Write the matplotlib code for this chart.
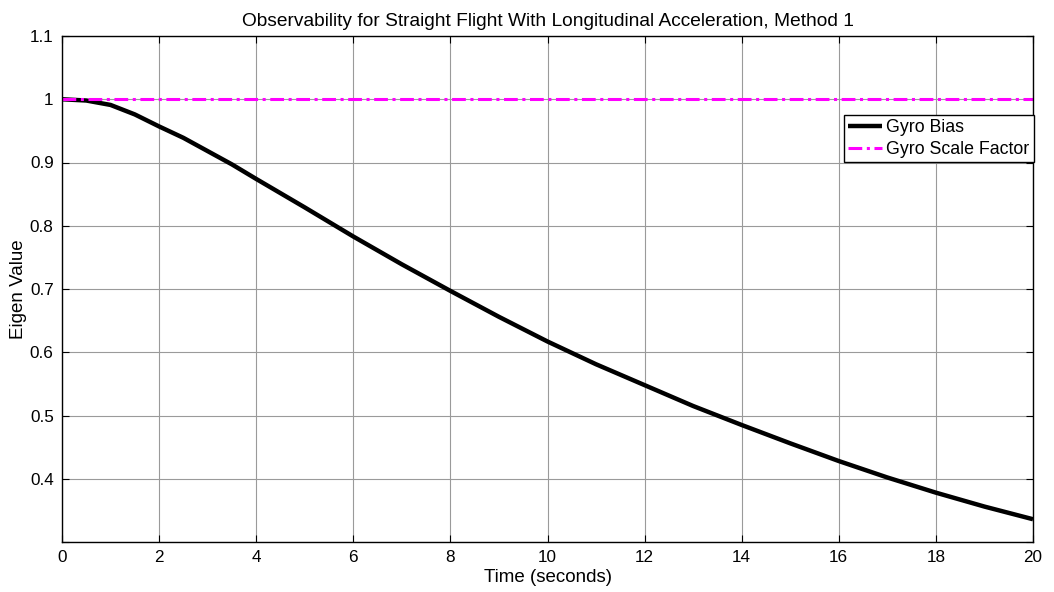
import matplotlib
matplotlib.use("Agg")
import matplotlib.pyplot as plt
import numpy as np

plt.rcParams['font.family'] = ['Liberation Sans', 'DejaVu Sans']

time_s = [0, 0.5, 1, 1.5, 2, 2.5, 3, 3.5, 4, 5, 6, 7, 8, 9, 10, 11, 12, 13, 14, 15, 16, 17, 18, 19, 20]
gyro_bias = [1.000, 0.998, 0.991, 0.976, 0.957, 0.939, 0.918, 0.897, 0.874, 0.829, 0.783, 0.739,
             0.697, 0.656, 0.617, 0.581, 0.548, 0.515, 0.485, 0.456, 0.428, 0.402, 0.378, 0.356, 0.336]
gyro_scale = [1.000, 1.000, 1.000, 1.000, 1.000, 1.000, 1.000, 1.000, 1.000, 1.000, 1.000, 1.000,
              1.000, 1.000, 1.000, 1.000, 1.000, 1.000, 1.000, 1.000, 1.000, 1.000, 1.000, 1.000, 1.000]
x_ticks = [0, 2, 4, 6, 8, 10, 12, 14, 16, 18, 20]
y_ticks = [0.4, 0.5, 0.6, 0.7, 0.8, 0.9, 1.0, 1.1]
y_tick_labels = ['0.4', '0.5', '0.6', '0.7', '0.8', '0.9', '1', '1.1']

fig = plt.figure(figsize=(10.54, 5.92), dpi=100)
ax = fig.add_axes([62/1054, 1 - 542/592, (1033-62)/1054, (542-36)/592])

ax.plot(time_s, gyro_bias, color='black', lw=3.2, label='Gyro Bias',
        solid_joinstyle='round', solid_capstyle='butt')
ax.plot(time_s, gyro_scale, color='#ff00ff', lw=2.2, ls=(0, (4.5, 1.5, 1.0, 1.5)),
        label='Gyro Scale Factor')

ax.set_xlim(0, 20)
ax.set_ylim(0.3, 1.1)
ax.set_xticks(x_ticks)
ax.set_xticklabels([str(v) for v in x_ticks])
ax.set_yticks(y_ticks + [0.3])
ax.set_yticklabels(y_tick_labels + [''])
ax.grid(True, color='#9a9a9a', lw=0.8)
ax.set_axisbelow(True)
ax.tick_params(direction='in', length=5, width=0.8, labelsize=12.3, top=True, right=True, pad=6)
for s in ax.spines.values():
    s.set_linewidth(1.0)

ax.set_xlabel('Time (seconds)', fontsize=13.5, labelpad=3)
ax.set_ylabel('Eigen Value', fontsize=13.5, labelpad=2)
ax.set_title('Observability for Straight Flight With Longitudinal Acceleration, Method 1',
             fontsize=13.8, pad=7)

leg = ax.legend(loc='upper right', bbox_to_anchor=(1.001, 0.844), fontsize=12.8, frameon=True,
                fancybox=False, borderaxespad=0, handlelength=1.9, borderpad=0.25,
                labelspacing=0.25, handletextpad=0.25)
leg.get_frame().set_edgecolor('black')
leg.get_frame().set_linewidth(1.0)
leg.get_frame().set_alpha(1)

fig.savefig('out.png', dpi=100)
